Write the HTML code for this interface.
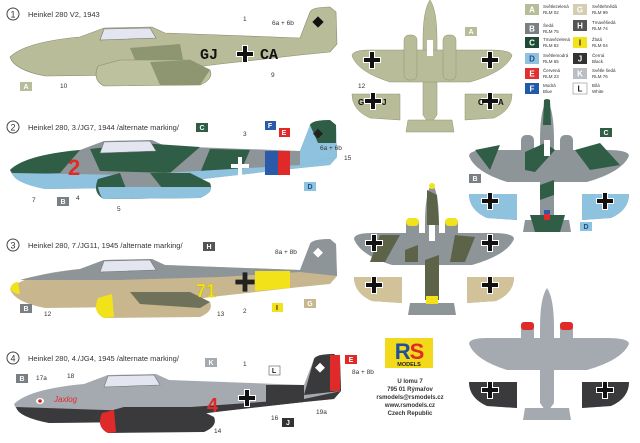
<!DOCTYPE html>
<html><head><meta charset="utf-8"><style>
html,body{margin:0;padding:0;background:#fff}
svg{display:block;font-family:"Liberation Sans",sans-serif}
</style></head><body>
<svg width="640" height="443" viewBox="0 0 640 443" xmlns="http://www.w3.org/2000/svg">
<defs>
<path id="fus" d="M10,57 Q25,42 80,37 L104,28 L152,27 L165,33 L300,38 L310,12 Q312,7 330,7 L336,12 L337,44 L330,52 L300,55 L220,64 L130,75 L45,76 Q14,70 10,57 Z"/>
<path id="nac" d="M98,66 Q92,80 104,86 L200,85 Q214,79 210,70 L190,60 L120,60 Z"/>
<path id="cano" d="M104,29 L150,28 L156,38 L100,40 Z"/>
<g id="cross"><rect x="-8" y="-2" width="16" height="4"/><rect x="-2" y="-8" width="4" height="16"/></g>
<g id="crossW"><rect x="-9" y="-3" width="18" height="6" fill="#fff"/><rect x="-3" y="-9" width="6" height="18" fill="#fff"/><use href="#cross" fill="#111"/></g>
<g id="top">
<path d="M430,0 Q437,10 437,40 L437,115 L432,122 L428,122 L423,115 L423,40 Q423,10 430,0 Z"/>
<path d="M352,56 Q352,50 370,50 L490,50 Q512,50 512,56 Q505,72 470,82 L390,82 Q358,72 352,56 Z"/>
<rect x="404" y="35" width="13" height="45" rx="5"/>
<rect x="443" y="35" width="13" height="45" rx="5"/>
<path d="M352,94 L400,94 L400,120 L370,118 Q352,110 352,94 Z"/>
<path d="M465,94 L512,94 Q512,110 494,118 L465,120 Z"/>
<path d="M408,120 L452,120 L454,132 L406,132 Z"/>
</g>
</defs>

<!-- Plane 1 side -->
<g>
<circle cx="13" cy="14" r="6" fill="none" stroke="#444" stroke-width="1"/><text x="13" y="17.5" font-size="9" text-anchor="middle" fill="#333">1</text>
<text x="28" y="17" font-size="7.5" fill="#333">Heinkel 280 V2, 1943</text>
<use href="#fus" fill="#b8bc98" stroke="#888c70" stroke-width=".6"/>
<path d="M130,48 L180,44 L185,70 L140,72 Z" fill="#8d9670"/>
<use href="#nac" fill="#bdc19e" stroke="#888c70" stroke-width=".6"/>
<path d="M150,62 L190,60 L210,70 L200,85 L160,85 Z" fill="#8d9670"/>
<use href="#cano" fill="#e3e6f0" stroke="#777" stroke-width=".6"/>
<text x="200" y="59" font-size="15" font-family="Liberation Mono" fill="#111" font-weight="bold">GJ</text>
<g transform="translate(245,54)"><use href="#crossW"/></g>
<text x="260" y="59" font-size="15" font-family="Liberation Mono" fill="#111" font-weight="bold">CA</text>
<rect x="314" y="18" width="8" height="8" fill="#111" transform="rotate(45 318 22)"/>
<text x="272" y="25" font-size="6.5" fill="#333">6a + 6b</text>
<text x="243" y="21" font-size="6.5" fill="#333">1</text>
<text x="271" y="77" font-size="6.5" fill="#333">9</text>
<text x="60" y="88" font-size="6.5" fill="#333">10</text>
<rect x="20" y="82" width="12" height="9" fill="#b8bc98"/><text x="26" y="89" font-size="7" fill="#fff" text-anchor="middle" font-weight="bold">A</text>
</g>

<!-- Plane 2 side -->
<g>
<circle cx="13" cy="127" r="6" fill="none" stroke="#444"/><text x="13" y="130.5" font-size="9" text-anchor="middle" fill="#333">2</text>
<text x="28" y="130" font-size="7.5" fill="#333">Heinkel 280, 3./JG7, 1944 /alternate marking/</text>
<g transform="translate(0,113)">
<use href="#fus" fill="#8e9599"/>
<path d="M10,57 Q25,42 80,37 L60,60 L14,62 Z" fill="#2f5d45"/>
<path d="M90,36 L140,30 L200,34 L170,60 L100,58 Z" fill="#2f5d45"/>
<path d="M210,36 L250,37 L240,60 L200,60 Z" fill="#2f5d45"/>
<path d="M12,60 L130,62 L300,52 L337,44 L330,52 L300,55 L220,64 L130,75 L45,76 Q14,70 12,60 Z" fill="#8ec2de"/>
<path d="M300,38 L310,12 Q312,7 330,7 L336,12 L337,44 L300,52 Z" fill="#8ec2de"/>
<path d="M310,12 Q312,7 330,7 L336,12 L336,30 L318,30 Z" fill="#2f5d45"/>
<use href="#nac" fill="#2f5d45"/>
<path d="M120,60 L150,60 L170,85 L130,86 Z" fill="#8e9599"/>
<path d="M98,74 Q100,84 104,86 L200,85 Q214,79 210,74 Z" fill="#8ec2de"/>
<use href="#cano" fill="#e3e6f0" stroke="#777" stroke-width=".6"/>
<rect x="265" y="38" width="13" height="24" fill="#2a5aa8"/><rect x="278" y="38" width="12" height="24" fill="#e02a2a"/>
<text x="68" y="62" font-size="22" fill="#e02a2a" font-weight="bold">2</text>
<g transform="translate(240,53)"><rect x="-9" y="-2" width="18" height="4" fill="#fff"/><rect x="-2" y="-9" width="4" height="18" fill="#fff"/></g>
<rect x="315" y="17" width="7" height="7" fill="#222" transform="rotate(45 318 20)"/>
</g>
<text x="320" y="150" font-size="6.5" fill="#333">6a + 6b</text>
<text x="344" y="160" font-size="6.5" fill="#333">15</text>
<text x="243" y="136" font-size="6.5" fill="#333">3</text>
<text x="32" y="202" font-size="6.5" fill="#333">7</text>
<text x="76" y="200" font-size="6.5" fill="#333">4</text>
<text x="117" y="211" font-size="6.5" fill="#333">5</text>
<rect x="196" y="123" width="12" height="9" fill="#2f5d45"/><text x="202" y="130" font-size="7" fill="#fff" text-anchor="middle" font-weight="bold">C</text>
<rect x="265" y="121" width="11" height="9" fill="#2a5aa8"/><text x="270" y="128" font-size="7" fill="#fff" text-anchor="middle" font-weight="bold">F</text>
<rect x="279" y="128" width="11" height="9" fill="#e02a2a"/><text x="284" y="135" font-size="7" fill="#fff" text-anchor="middle" font-weight="bold">E</text>
<rect x="57" y="197" width="12" height="9" fill="#7a7f84"/><text x="63" y="204" font-size="7" fill="#fff" text-anchor="middle" font-weight="bold">B</text>
<rect x="304" y="182" width="12" height="9" fill="#8ec2de"/><text x="310" y="189" font-size="7" fill="#1d4f8a" text-anchor="middle" font-weight="bold">D</text>
</g>

<!-- Plane 3 side -->
<g>
<circle cx="13" cy="245" r="6" fill="none" stroke="#444"/><text x="13" y="248.5" font-size="9" text-anchor="middle" fill="#333">3</text>
<text x="28" y="248" font-size="7.5" fill="#333">Heinkel 280, 7./JG11, 1945 /alternate marking/</text>
<g transform="translate(0,232)">
<use href="#fus" fill="#c8b78e"/>
<path d="M20,48 Q40,42 80,37 L104,28 L152,27 L165,33 L300,38 L310,12 Q312,7 330,7 L336,12 L337,44 L300,40 L220,45 L120,48 Z" fill="#8e9599"/>
<use href="#nac" fill="#c8b78e"/>
<path d="M130,60 L190,60 L210,70 L200,76 L140,72 Z" fill="#6f715a"/>
<path d="M10,57 Q12,50 18,50 L20,62 Q14,62 10,57 Z" fill="#f2e21a"/>
<path d="M98,66 Q92,80 104,86 L114,85 L112,62 Z" fill="#f2e21a"/>
<path d="M255,39 L290,39 L290,56 L255,59 Z" fill="#f2e21a"/>
<use href="#cano" fill="#e3e6f0" stroke="#777" stroke-width=".6"/>
<text x="196" y="65" font-size="18" fill="#f2e21a" font-weight="bold" stroke="#b8a400" stroke-width=".3">71</text>
<g transform="translate(245,50)"><use href="#cross" fill="#222" transform="scale(1.2)"/></g>
<rect x="315" y="17" width="7" height="7" fill="#fff" transform="rotate(45 318 20)"/>
</g>
<text x="275" y="254" font-size="6.5" fill="#333">8a + 8b</text>
<text x="44" y="316" font-size="6.5" fill="#333">12</text>
<text x="217" y="316" font-size="6.5" fill="#333">13</text>
<text x="243" y="313" font-size="6.5" fill="#333">2</text>
<rect x="203" y="242" width="12" height="9" fill="#555"/><text x="209" y="249" font-size="7" fill="#fff" text-anchor="middle" font-weight="bold">H</text>
<rect x="272" y="303" width="11" height="9" fill="#f2e21a"/><text x="277" y="310" font-size="7" fill="#222" text-anchor="middle" font-weight="bold">I</text>
<rect x="20" y="304" width="12" height="9" fill="#7a7f84"/><text x="26" y="311" font-size="7" fill="#fff" text-anchor="middle" font-weight="bold">B</text>
<rect x="304" y="299" width="12" height="9" fill="#c8b78e"/><text x="310" y="306" font-size="7" fill="#fff" text-anchor="middle" font-weight="bold">G</text>
</g>

<!-- Plane 4 side -->
<g>
<circle cx="13" cy="358" r="6" fill="none" stroke="#444"/><text x="13" y="361.5" font-size="9" text-anchor="middle" fill="#333">4</text>
<text x="28" y="361" font-size="7.5" fill="#333">Heinkel 280, 4./JG4, 1945 /alternate marking/</text>
<g transform="translate(4,347)">
<use href="#fus" fill="#a4aab0"/>
<path d="M12,60 L130,64 L300,52 L337,44 L330,52 L300,55 L220,64 L130,75 L45,76 Q14,70 12,60 Z" fill="#3a3a3c"/>
<path d="M262,38 L300,38 L300,55 L262,59 Z" fill="#3a3a3c"/>
<path d="M310,12 Q312,7 330,7 L336,12 L337,44 L300,48 Z" fill="#3a3a3c"/>
<rect x="326" y="8" width="10" height="36" fill="#e02a2a"/>
<use href="#nac" fill="#3a3a3c"/>
<path d="M98,66 Q92,80 104,86 L112,85 L110,63 Z" fill="#e02a2a"/>
<use href="#cano" fill="#e3e6f0" stroke="#777" stroke-width=".6"/>
<text x="203" y="65" font-size="20" fill="#e02a2a" font-weight="bold">4</text>
<g transform="translate(243,51)"><use href="#crossW"/></g>
<rect x="313" y="17" width="7" height="7" fill="#fff" transform="rotate(45 316 20)"/>
<ellipse cx="36" cy="54" rx="4" ry="3" fill="#fff"/><circle cx="36" cy="54" r="1.8" fill="#c22"/>
<text x="50" y="55" font-size="8" fill="#e02a2a" font-style="italic">Jaxlog</text>
</g>
<text x="36" y="380" font-size="6.5" fill="#333">17a</text>
<text x="67" y="378" font-size="6.5" fill="#333">18</text>
<text x="243" y="366" font-size="6.5" fill="#333">1</text>
<text x="214" y="433" font-size="6.5" fill="#333">14</text>
<text x="271" y="420" font-size="6.5" fill="#333">16</text>
<text x="316" y="414" font-size="6.5" fill="#333">19a</text>
<text x="352" y="374" font-size="6.5" fill="#333">8a + 8b</text>
<rect x="16" y="374" width="12" height="9" fill="#7a7f84"/><text x="22" y="381" font-size="7" fill="#fff" text-anchor="middle" font-weight="bold">B</text>
<rect x="205" y="358" width="12" height="9" fill="#a4aab0"/><text x="211" y="365" font-size="7" fill="#fff" text-anchor="middle" font-weight="bold">K</text>
<rect x="269" y="366" width="11" height="9" fill="#fff" stroke="#555" stroke-width=".6"/><text x="274" y="373" font-size="7" fill="#222" text-anchor="middle" font-weight="bold">L</text>
<rect x="282" y="418" width="12" height="9" fill="#333"/><text x="288" y="425" font-size="7" fill="#fff" text-anchor="middle" font-weight="bold">J</text>
<rect x="345" y="355" width="12" height="9" fill="#e02a2a"/><text x="351" y="362" font-size="7" fill="#fff" text-anchor="middle" font-weight="bold">E</text>
</g>

<!-- Top views -->
<g fill="#b8bc98" stroke="#8f9370" stroke-width=".5"><use href="#top"/></g>
<rect x="427" y="40" width="6" height="16" fill="#fff"/>
<g transform="translate(372,60)"><use href="#crossW"/></g><g transform="translate(490,60)"><use href="#crossW"/></g>
<g transform="translate(373,101)"><use href="#crossW"/></g><g transform="translate(490,101)"><use href="#crossW"/></g>
<text x="358" y="105" font-size="8" fill="#111" font-weight="bold">G</text><text x="382" y="105" font-size="8" fill="#111" font-weight="bold">J</text>
<text x="478" y="105" font-size="8" fill="#111" font-weight="bold">C</text><text x="498" y="105" font-size="8" fill="#111" font-weight="bold">A</text>
<text x="358" y="88" font-size="6.5" fill="#333">12</text>
<rect x="465" y="27" width="12" height="9" fill="#b8bc98"/><text x="471" y="34" font-size="7" fill="#fff" text-anchor="middle" font-weight="bold">A</text>

<g transform="translate(117,100)" fill="#8e9599"><use href="#top"/></g>
<g fill="#2f5d45"><path d="M525,152 L545,143 L555,150 L535,172 L525,170 Z"/><path d="M544,100 Q547,98 550,100 L551,125 L543,125 Z"/><path d="M575,150 L600,143 L620,165 L590,170 Z"/><path d="M475,150 L500,145 L490,170 Z"/><path d="M530,215 L565,215 L560,232 L535,232 Z"/><path d="M540,185 L554,180 L554,195 L540,200 Z"/></g>
<rect x="544" y="140" width="6" height="16" fill="#fff"/>
<path d="M469,194 L517,194 L517,220 L487,218 Q469,210 469,194 Z" fill="#8ec2de"/>
<path d="M582,194 L629,194 Q629,210 611,218 L582,220 Z" fill="#8ec2de"/>
<rect x="544" y="210" width="6" height="4" fill="#2a5aa8"/><rect x="544" y="214" width="6" height="6" fill="#e02a2a"/>
<g transform="translate(490,201)"><use href="#crossW"/></g><g transform="translate(605,201)"><use href="#crossW"/></g>
<rect x="600" y="128" width="12" height="9" fill="#2f5d45"/><text x="606" y="135" font-size="7" fill="#fff" text-anchor="middle" font-weight="bold">C</text>
<rect x="469" y="174" width="12" height="9" fill="#7a7f84"/><text x="475" y="181" font-size="7" fill="#fff" text-anchor="middle" font-weight="bold">B</text>
<rect x="580" y="222" width="12" height="9" fill="#8ec2de"/><text x="586" y="229" font-size="7" fill="#1d4f8a" text-anchor="middle" font-weight="bold">D</text>

<g transform="translate(2,183)" fill="#8e9599"><use href="#top"/></g>
<g fill="#5c6349"><path d="M427,190 L437,195 L439,225 L427,225 Z"/><path d="M425,260 L439,255 L439,300 L425,300 Z"/><path d="M380,235 L400,235 L385,262 L370,262 Z"/><path d="M455,235 L475,237 L465,262 L450,262 Z"/><path d="M405,250 L418,245 L418,262 L405,262 Z"/></g>
<rect x="429" y="225" width="6" height="16" fill="#fff"/>
<path d="M354,277 L402,277 L402,303 L372,301 Q354,293 354,277 Z" fill="#d2c29a"/>
<path d="M467,277 L514,277 Q514,293 496,301 L467,303 Z" fill="#d2c29a"/>
<g fill="#f2e21a"><circle cx="432" cy="186" r="3"/><rect x="406" y="218" width="13" height="8" rx="4"/><rect x="445" y="218" width="13" height="8" rx="4"/><rect x="426" y="296" width="12" height="8"/></g>
<g transform="translate(374,285)"><use href="#crossW"/></g><g transform="translate(490,285)"><use href="#crossW"/></g>
<g transform="translate(374,243)"><use href="#crossW"/></g><g transform="translate(490,243)"><use href="#crossW"/></g>

<g transform="translate(117,288)" fill="#a4aab0"><use href="#top"/></g>
<path d="M469,382 L517,382 L517,408 L487,406 Q469,398 469,382 Z" fill="#3a3a3c"/>
<path d="M582,382 L629,382 Q629,398 611,406 L582,408 Z" fill="#3a3a3c"/>
<g fill="#e02a2a"><rect x="521" y="322" width="13" height="8" rx="3"/><rect x="560" y="322" width="13" height="8" rx="3"/></g>
<g transform="translate(490,390)"><use href="#crossW"/></g><g transform="translate(605,390)"><use href="#crossW"/></g>

<!-- legend -->
<g font-size="4.5" fill="#333">
<rect x="525" y="4" width="14" height="11" fill="#b8bc98"/><text x="532" y="12.5" font-size="8" fill="#fff" text-anchor="middle" font-weight="bold">A</text><text x="543" y="8">Světlezelená</text><text x="543" y="14">RLM 02</text>
<rect x="525" y="23" width="14" height="11" fill="#7a7f84"/><text x="532" y="31.5" font-size="8" fill="#fff" text-anchor="middle" font-weight="bold">B</text><text x="543" y="27">Šedá</text><text x="543" y="33">RLM 75</text>
<rect x="525" y="37" width="14" height="11" fill="#1f4a36"/><text x="532" y="45.5" font-size="8" fill="#fff" text-anchor="middle" font-weight="bold">C</text><text x="543" y="41">Tmavězelená</text><text x="543" y="47">RLM 82</text>
<rect x="525" y="53" width="14" height="11" fill="#8ec2de"/><text x="532" y="61.5" font-size="8" fill="#1d4f8a" text-anchor="middle" font-weight="bold">D</text><text x="543" y="57">Světlemodrá</text><text x="543" y="63">RLM 65</text>
<rect x="525" y="68" width="14" height="11" fill="#e03030"/><text x="532" y="76.5" font-size="8" fill="#fff" text-anchor="middle" font-weight="bold">E</text><text x="543" y="72">Červená</text><text x="543" y="78">RLM 23</text>
<rect x="525" y="83" width="14" height="11" fill="#1f5ba8"/><text x="532" y="91.5" font-size="8" fill="#fff" text-anchor="middle" font-weight="bold">F</text><text x="543" y="87">Modrá</text><text x="543" y="93">Blue</text>
<rect x="573" y="4" width="14" height="11" fill="#d6ccb0"/><text x="580" y="12.5" font-size="8" fill="#fff" text-anchor="middle" font-weight="bold">G</text><text x="592" y="8">Světlehnědá</text><text x="592" y="14">RLM 99</text>
<rect x="573" y="20" width="14" height="11" fill="#555"/><text x="580" y="28.5" font-size="8" fill="#fff" text-anchor="middle" font-weight="bold">H</text><text x="592" y="24">Tmavěšedá</text><text x="592" y="30">RLM 74</text>
<rect x="573" y="37" width="14" height="11" fill="#f2e21a"/><text x="580" y="45.5" font-size="8" fill="#222" text-anchor="middle" font-weight="bold">I</text><text x="592" y="41">Žlutá</text><text x="592" y="47">RLM 04</text>
<rect x="573" y="53" width="14" height="11" fill="#333"/><text x="580" y="61.5" font-size="8" fill="#fff" text-anchor="middle" font-weight="bold">J</text><text x="592" y="57">Černá</text><text x="592" y="63">Black</text>
<rect x="573" y="68" width="14" height="11" fill="#b9bec4"/><text x="580" y="76.5" font-size="8" fill="#fff" text-anchor="middle" font-weight="bold">K</text><text x="592" y="72">Světle šedá</text><text x="592" y="78">RLM 76</text>
<rect x="573" y="83" width="14" height="11" fill="#fff" stroke="#777" stroke-width=".5"/><text x="580" y="91.5" font-size="8" fill="#222" text-anchor="middle" font-weight="bold">L</text><text x="592" y="87">Bílá</text><text x="592" y="93">White</text>
</g>

<!-- RS logo -->
<rect x="385" y="338" width="48" height="30" fill="#f2d91a"/>
<text x="409" y="359" font-size="22" font-weight="bold" text-anchor="middle" fill="#1f4fa0" letter-spacing="-1">R<tspan fill="#e02a2a">S</tspan></text>
<text x="409" y="366" font-size="5.5" font-weight="bold" text-anchor="middle" fill="#222">MODELS</text>
<g font-size="6" font-weight="bold" text-anchor="middle" fill="#333">
<text x="410" y="383">U lomu 7</text><text x="410" y="391">795 01 Rýmařov</text><text x="410" y="399">rsmodels@rsmodels.cz</text><text x="410" y="407">www.rsmodels.cz</text><text x="410" y="415">Czech Republic</text>
</g>
</svg>
</body></html>
